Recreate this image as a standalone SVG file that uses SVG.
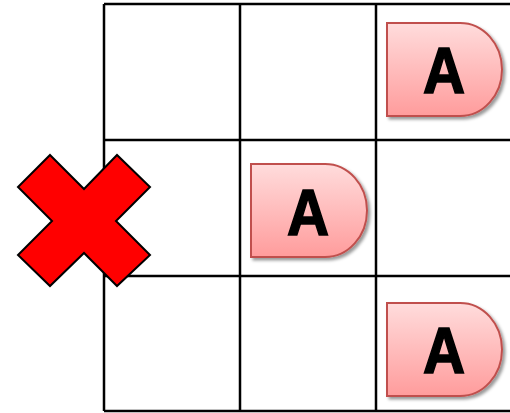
<svg xmlns="http://www.w3.org/2000/svg" width="510" height="413" viewBox="0 0 510 413">
<style>
.grid{stroke:#000;stroke-width:2.5;fill:none}
.d{fill:url(#g);stroke:#c0504d;stroke-width:2;filter:url(#sh)}
.t{font-family:"Liberation Sans",Arial,sans-serif;font-weight:bold;font-size:64px;fill:#000;stroke:#000;stroke-width:1.6;text-anchor:middle}
</style>
<defs>
<linearGradient id="g" x1="0" y1="0" x2="0" y2="1">
<stop offset="0" stop-color="#ffdcdc"/>
<stop offset="1" stop-color="#ff9c9c"/>
</linearGradient>
<filter id="sh" x="-20%" y="-20%" width="140%" height="140%">
<feDropShadow dx="2.5" dy="2.5" stdDeviation="1.8" flood-color="#000" flood-opacity="0.4"/>
</filter>
</defs>
<g id="grid">
<path class="grid" d="M104,4 H510 M104,140 H510 M104,276 H510 M104,411 H510 M104,4 V411 M240,4 V411 M376,4 V411"/>
</g>
<g id="nodeA1">
<path class="d" d="M387,23 H460 A42,46.5 0 0 1 460,116 H387 Z"/>
<text class="t" transform="translate(444,93) scale(0.91,1)">A</text>
</g>
<g id="nodeA2">
<path class="d" d="M251,164 H325 A42,46.5 0 0 1 325,257 H251 Z"/>
<text class="t" transform="translate(308,235) scale(0.91,1)">A</text>
</g>
<g id="nodeA3">
<path class="d" d="M387,303 H460 A42,46.5 0 0 1 460,396 H387 Z"/>
<text class="t" transform="translate(444,373) scale(0.91,1)">A</text>
</g>
<g id="cross">
<polygon points="50,155 84,189 117,155 150,187 116,221 150,255 117,286 84,253 50,286 18,255 52,221 18,187" fill="#ff0000" stroke="#000" stroke-width="2" stroke-linejoin="miter"/>
</g>
</svg>
